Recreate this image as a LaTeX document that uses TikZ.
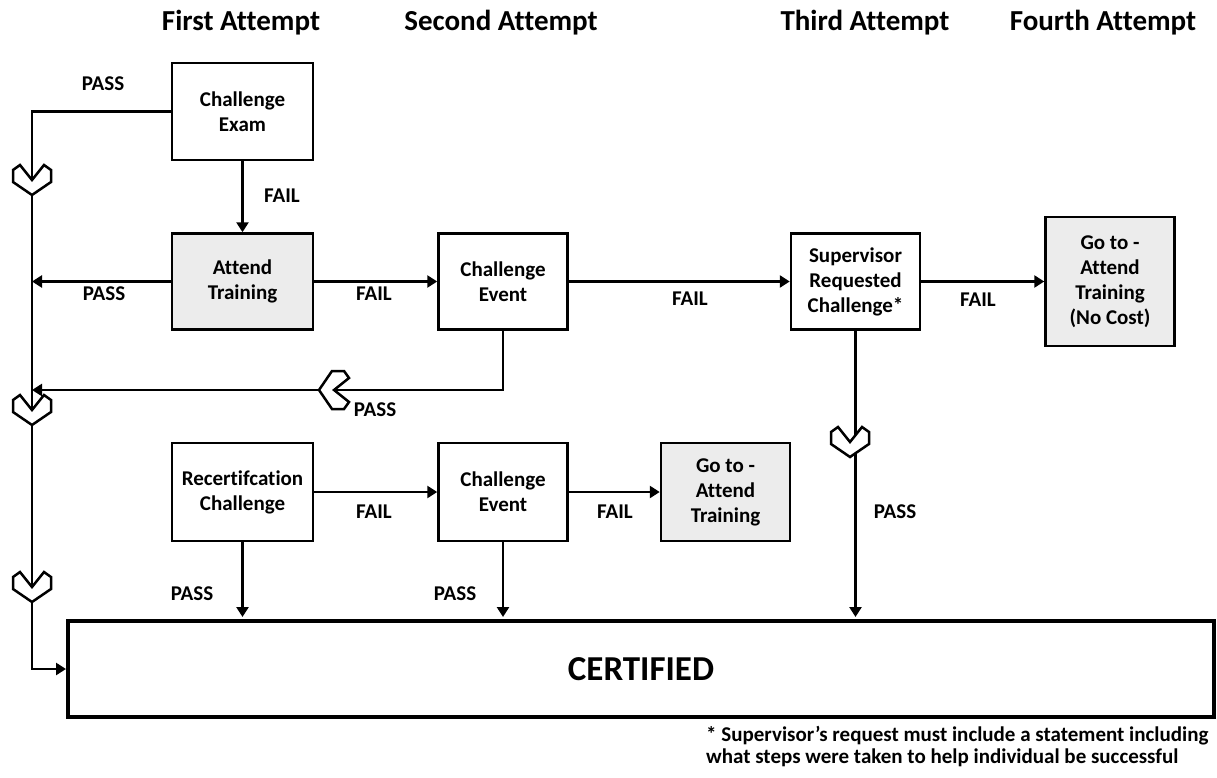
\documentclass[tikz,border=0pt]{standalone}
\usepackage{fontspec}
\setmainfont{Carlito}[Ligatures={NoCommon}]
\usetikzlibrary{positioning,arrows.meta,calc}

\tikzset{
  box/.style={draw, line width=2.5pt, align=center, inner sep=0pt, minimum width=129pt, minimum height=96pt, font=\fontsize{21}{25}\selectfont\bfseries},
  graybox/.style={box, fill=gray!15},
  lbl/.style={anchor=base, font=\fontsize{21}{25}\selectfont\bfseries},
  hdr/.style={anchor=base, font=\fontsize{29}{34}\selectfont\bfseries},
  arr/.style={line width=2.5pt, -{Triangle[length=10pt,width=12pt]}},
  chev/.pic={\filldraw[fill=white, line width=2.5pt, line join=miter] (-19,-10) -- (-12,-15) -- (0,0) -- (12,-15) -- (19,-10) -- (19,2) -- (0,15) -- (-19,2) -- cycle;}
}

\begin{document}
\begin{tikzpicture}[x=1pt, y=-1pt]
\useasboundingbox (0,0) rectangle (1217,778);
% headers
\node[hdr] at (241,31) (h1) {First Attempt};
\node[hdr] at (501,31) (h2) {Second Attempt};
\node[hdr] at (865,31) (h3) {Third Attempt};
\node[hdr] at (1103,31) (h4) {Fourth Attempt};

% boxes
\node[box, minimum width=141pt, minimum height=97pt] at (242.5,111.5) (exam) {Challenge\\Exam};
\node[graybox, minimum width=141pt, below=71pt of exam] (train) {Attend\\Training};
\node[box, right=123pt of train] (event1) {Challenge\\Event};
\node[box, right=221pt of event1] (super) {Supervisor\\Requested\\Challenge*};
\node[graybox, minimum height=129pt, right=123pt of super] (goto1) {Go to -\\Attend\\Training\\(No Cost)};
\node[box, minimum width=141pt, minimum height=98pt] at (242.5,492) (recert) {Recertifcation\\Challenge};
\node[box, minimum height=98pt, right=123pt of recert] (event2) {Challenge\\Event};
\node[graybox, minimum height=98pt, right=91pt of event2] (goto2) {Go to -\\Attend\\Training};
\node[draw, line width=4pt, minimum width=1146pt, minimum height=96pt, font=\fontsize{35}{40}\selectfont\bfseries] at (641,669) (cert) {CERTIFIED};

\coordinate (lb) at (32,669);
\coordinate (ret) at (32,390);

% connectors
\draw[arr] (exam.west) -| (lb) -- (cert.west);
\draw[arr] (exam.south) -- (train.north);
\draw[arr] (train.west) -- (train.west -| lb);
\draw[arr] (train) -- (event1);
\draw[arr] (event1) -- (super);
\draw[arr] (super) -- (goto1);
\draw[arr] (event1.south) |- (ret);
\draw[arr, shorten >=2pt] (super.south) -- (super.south |- cert.north);
\draw[arr] (recert) -- (event2);
\draw[arr] (event2) -- (goto2);
\draw[arr, shorten >=2pt] (recert.south) -- (recert.south |- cert.north);
\draw[arr, shorten >=2pt] (event2.south) -- (event2.south |- cert.north);

% chevrons
\pic at (32,180) {chev};
\pic at (32,410) {chev};
\pic at (32,587) {chev};
\pic at (850,442) {chev};
\pic[rotate=-90] at (334,390) {chev};

% labels
\node[lbl] at (103,91) (p1) {PASS};
\node[lbl] at (282,202) (f1) {FAIL};
\node[lbl] at (104,300) (p2) {PASS};
\node[lbl] at (374,300) (f2) {FAIL};
\node[lbl] at (690,305) (f3) {FAIL};
\node[lbl] at (978,306) (f4) {FAIL};
\node[lbl] at (375,416) (p3) {PASS};
\node[lbl] at (895,518) (p4) {PASS};
\node[lbl] at (374,518) (f5) {FAIL};
\node[lbl] at (615,518) (f6) {FAIL};
\node[lbl] at (192,600) (p5) {PASS};
\node[lbl] at (455,600) (p6) {PASS};

% footnote
\node[anchor=base west, align=left, inner sep=0pt, font=\fontsize{21}{22}\selectfont\bfseries] at (706,763) (note) {* Supervisor's request must include a statement including\\what steps were taken to help individual be successful};
\end{tikzpicture}
\end{document}
